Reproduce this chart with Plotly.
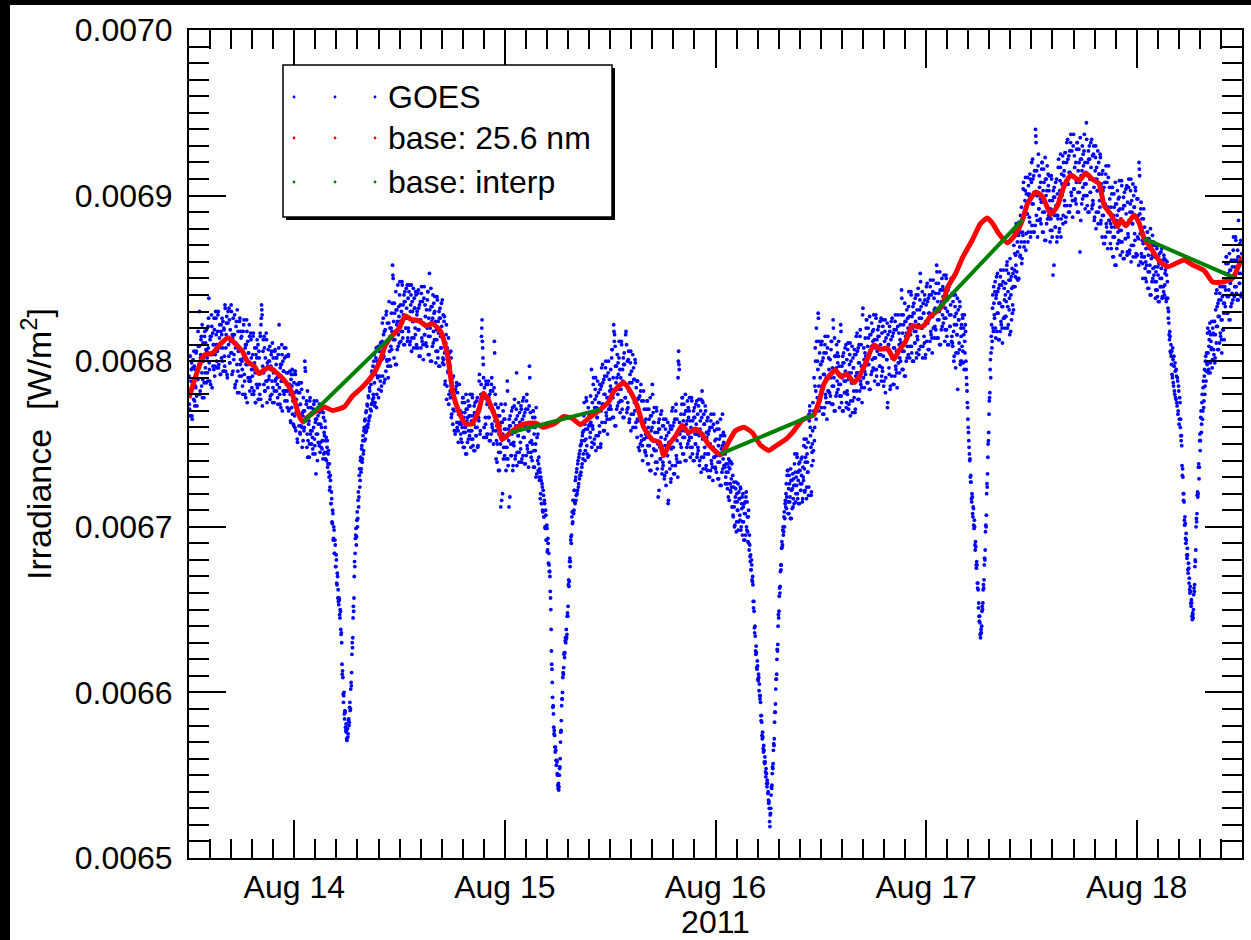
import pandas as pd
import plotly.graph_objects as go

# ---------------------------------------------------------------------------
# GOES irradiance in micro-W/m^2, two samples per 4-minute interval
# (at +0 min and +2 min), starting 2011-08-13 12:00 UT.
# One list per day and per sample phase, 15 values per hour.
# ---------------------------------------------------------------------------
goes_start_a = "2011-08-13 12:00"
goes_start_b = "2011-08-13 12:02"
goes_step = "4min"

goes_aug13_a = [
    6791, 6771, 6803, 6781, 6795, 6767, 6787, 6801, 6777, 6797, 6773, 6785, 6805, 6779, 6789,
    6789, 6809, 6798, 6830, 6782, 6804, 6815, 6793, 6778, 6811, 6802, 6787, 6818, 6796, 6807,
    6819, 6802, 6788, 6808, 6838, 6795, 6813, 6786, 6815, 6821, 6804, 6797, 6810, 6826, 6791,
    6804, 6826, 6810, 6796, 6818, 6830, 6798, 6814, 6808, 6792, 6822, 6816, 6800, 6824, 6794,
    6819, 6797, 6832, 6808, 6823, 6792, 6814, 6830, 6803, 6825, 6799, 6812, 6834, 6805, 6816,
    6794, 6816, 6804, 6828, 6786, 6811, 6824, 6798, 6781, 6818, 6808, 6791, 6826, 6801, 6814,
    6815, 6795, 6780, 6802, 6825, 6788, 6808, 6778, 6810, 6818, 6798, 6790, 6805, 6822, 6782,
    6788, 6813, 6795, 6780, 6804, 6817, 6782, 6799, 6793, 6775, 6808, 6802, 6784, 6810, 6777,
    6802, 6780, 6815, 6822, 6834, 6828, 6797, 6813, 6786, 6808, 6782, 6795, 6817, 6788, 6799,
    6784, 6800, 6791, 6809, 6779, 6797, 6806, 6788, 6775, 6802, 6795, 6782, 6807, 6789, 6798,
    6802, 6786, 6774, 6792, 6822, 6780, 6796, 6772, 6798, 6804, 6788, 6782, 6794, 6808, 6776,
    6782, 6803, 6786, 6772, 6793, 6804, 6771, 6786, 6780, 6763, 6792, 6785, 6768, 6792, 6761,
]
goes_aug13_b = [
    6774, 6803, 6767, 6788, 6799, 6765, 6796, 6785, 6806, 6776, 6795, 6784, 6806, 6773, 6794,
    6818, 6796, 6809, 6780, 6802, 6813, 6785, 6822, 6789, 6800, 6778, 6815, 6793, 6811, 6787,
    6806, 6793, 6821, 6826, 6799, 6788, 6815, 6804, 6828, 6784, 6817, 6810, 6795, 6819, 6797,
    6830, 6816, 6800, 6806, 6828, 6796, 6810, 6822, 6792, 6818, 6802, 6826, 6808, 6794, 6820,
    6803, 6834, 6794, 6816, 6827, 6790, 6823, 6810, 6832, 6799, 6819, 6805, 6830, 6792, 6814,
    6826, 6801, 6816, 6784, 6808, 6821, 6788, 6831, 6794, 6806, 6781, 6824, 6798, 6818, 6791,
    6800, 6785, 6818, 6822, 6792, 6780, 6810, 6798, 6825, 6775, 6812, 6805, 6788, 6815, 6790,
    6817, 6802, 6784, 6791, 6815, 6780, 6795, 6808, 6775, 6804, 6786, 6813, 6793, 6777, 6806,
    6786, 6817, 6777, 6826, 6831, 6773, 6806, 6793, 6815, 6782, 6802, 6788, 6813, 6775, 6797,
    6807, 6789, 6800, 6777, 6795, 6804, 6780, 6811, 6784, 6793, 6775, 6806, 6788, 6802, 6782,
    6790, 6778, 6804, 6808, 6784, 6774, 6798, 6788, 6810, 6770, 6800, 6794, 6780, 6802, 6782,
    6808, 6793, 6776, 6782, 6803, 6770, 6783, 6794, 6764, 6789, 6772, 6795, 6776, 6762, 6787,
]

goes_aug14_a = [
    6781, 6760, 6792, 6769, 6782, 6753, 6773, 6786, 6761, 6781, 6756, 6767, 6787, 6760, 6769,
    6752, 6770, 6760, 6800, 6794, 6766, 6776, 6756, 6742, 6772, 6764, 6750, 6778, 6758, 6768,
    6769, 6754, 6744, 6760, 6776, 6749, 6763, 6732, 6765, 6771, 6756, 6751, 6762, 6774, 6745,
    6762, 6748, 6770, 6752, 6741, 6766, 6757, 6745, 6760, 6752, 6740, 6748, 6736, 6744, 6733,
    6738, 6724, 6728, 6714, 6717, 6702, 6708, 6693, 6698, 6684, 6689, 6676, 6680, 6665, 6670,
    6662, 6653, 6656, 6645, 6649, 6635, 6630, 6611, 6609, 6594, 6600, 6584, 6588, 6577, 6576,
    6571, 6578, 6575, 6584, 6582, 6594, 6590, 6606, 6612, 6630, 6633, 6652, 6657, 6679, 6684,
    6695, 6689, 6704, 6700, 6716, 6712, 6731, 6724, 6740, 6733, 6747, 6739, 6752, 6744, 6758,
    6752, 6765, 6757, 6770, 6761, 6773, 6762, 6778, 6766, 6782, 6771, 6786, 6774, 6792, 6777,
    6780, 6800, 6787, 6775, 6796, 6808, 6780, 6796, 6791, 6778, 6806, 6801, 6788, 6811, 6785,
    6812, 6791, 6826, 6803, 6818, 6789, 6811, 6828, 6801, 6823, 6797, 6813, 6836, 6806, 6815,
    6809, 6829, 6818, 6858, 6850, 6824, 6835, 6813, 6798, 6831, 6822, 6807, 6846, 6816, 6827,
    6840, 6824, 6812, 6830, 6848, 6818, 6834, 6810, 6836, 6842, 6826, 6820, 6832, 6846, 6814,
    6820, 6842, 6826, 6812, 6834, 6846, 6814, 6830, 6824, 6808, 6838, 6832, 6816, 6840, 6810,
    6830, 6808, 6843, 6819, 6834, 6803, 6825, 6841, 6814, 6836, 6810, 6823, 6845, 6816, 6827,
    6811, 6831, 6820, 6842, 6804, 6826, 6853, 6815, 6800, 6833, 6824, 6809, 6840, 6818, 6829,
    6830, 6813, 6799, 6819, 6839, 6806, 6824, 6797, 6826, 6832, 6815, 6808, 6821, 6837, 6802,
    6801, 6824, 6805, 6788, 6811, 6822, 6785, 6801, 6793, 6774, 6805, 6797, 6778, 6802, 6768,
    6781, 6762, 6791, 6770, 6782, 6756, 6774, 6785, 6763, 6781, 6758, 6768, 6786, 6762, 6770,
    6753, 6769, 6760, 6778, 6748, 6766, 6775, 6757, 6744, 6771, 6764, 6751, 6776, 6758, 6767,
    6773, 6758, 6748, 6764, 6780, 6753, 6767, 6746, 6769, 6775, 6760, 6755, 6766, 6778, 6749,
    6766, 6788, 6772, 6758, 6780, 6815, 6825, 6808, 6798, 6754, 6784, 6778, 6762, 6786, 6756,
    6776, 6756, 6788, 6766, 6780, 6752, 6772, 6786, 6762, 6782, 6758, 6770, 6812, 6764, 6774,
    6741, 6761, 6750, 6772, 6734, 6756, 6767, 6745, 6712, 6763, 6754, 6720, 6770, 6748, 6759,
]
goes_aug14_b = [
    6767, 6794, 6758, 6777, 6786, 6751, 6781, 6768, 6787, 6757, 6774, 6761, 6783, 6748, 6767,
    6778, 6758, 6770, 6796, 6764, 6774, 6748, 6782, 6752, 6762, 6742, 6776, 6756, 6772, 6750,
    6758, 6747, 6771, 6774, 6753, 6744, 6765, 6756, 6776, 6740, 6767, 6762, 6749, 6769, 6751,
    6770, 6760, 6747, 6752, 6769, 6744, 6755, 6764, 6741, 6754, 6745, 6752, 6738, 6746, 6730,
    6722, 6731, 6714, 6721, 6703, 6710, 6692, 6700, 6684, 6692, 6676, 6683, 6666, 6672, 6657,
    6655, 6657, 6647, 6650, 6638, 6636, 6617, 6613, 6599, 6598, 6587, 6589, 6579, 6581, 6572,
    6578, 6573, 6583, 6580, 6591, 6589, 6602, 6604, 6623, 6627, 6645, 6649, 6670, 6676, 6693,
    6699, 6694, 6709, 6705, 6721, 6718, 6735, 6728, 6742, 6735, 6749, 6741, 6755, 6746, 6760,
    6764, 6753, 6769, 6758, 6774, 6760, 6779, 6764, 6784, 6767, 6789, 6770, 6794, 6775, 6797,
    6778, 6804, 6773, 6792, 6802, 6772, 6800, 6790, 6809, 6783, 6800, 6791, 6811, 6782, 6801,
    6823, 6802, 6816, 6787, 6810, 6819, 6794, 6830, 6800, 6811, 6790, 6823, 6801, 6820, 6797,
    6820, 6807, 6835, 6852, 6813, 6802, 6829, 6818, 6842, 6798, 6831, 6824, 6809, 6833, 6811,
    6848, 6834, 6818, 6824, 6846, 6814, 6828, 6840, 6810, 6836, 6820, 6844, 6826, 6812, 6838,
    6818, 6846, 6810, 6830, 6840, 6806, 6836, 6824, 6844, 6814, 6832, 6820, 6842, 6808, 6828,
    6841, 6819, 6832, 6803, 6825, 6836, 6808, 6845, 6812, 6823, 6801, 6838, 6816, 6834, 6810,
    6822, 6809, 6837, 6842, 6815, 6804, 6831, 6820, 6844, 6800, 6833, 6826, 6811, 6835, 6813,
    6839, 6824, 6806, 6813, 6837, 6802, 6817, 6830, 6797, 6826, 6808, 6835, 6815, 6799, 6828,
    6798, 6827, 6786, 6806, 6816, 6777, 6808, 6794, 6814, 6780, 6798, 6782, 6806, 6766, 6787,
    6790, 6771, 6782, 6758, 6775, 6783, 6758, 6787, 6760, 6770, 6751, 6768, 6763, 6767, 6756,
    6762, 6751, 6775, 6778, 6757, 6748, 6769, 6760, 6780, 6744, 6771, 6766, 6753, 6773, 6755,
    6780, 6767, 6753, 6758, 6778, 6749, 6762, 6773, 6746, 6769, 6755, 6776, 6760, 6748, 6771,
    6764, 6792, 6756, 6776, 6786, 6820, 6812, 6802, 6790, 6760, 6778, 6766, 6788, 6754, 6774,
    6786, 6766, 6778, 6752, 6772, 6782, 6756, 6790, 6760, 6770, 6750, 6784, 6805, 6780, 6758,
    6752, 6739, 6767, 6772, 6745, 6734, 6761, 6750, 6774, 6716, 6763, 6756, 6741, 6765, 6743,
]

goes_aug15_a = [
    6765, 6748, 6734, 6754, 6788, 6741, 6759, 6712, 6761, 6767, 6750, 6743, 6756, 6772, 6737,
    6751, 6773, 6757, 6743, 6765, 6793, 6745, 6761, 6755, 6739, 6769, 6763, 6747, 6771, 6741,
    6765, 6743, 6778, 6754, 6769, 6738, 6760, 6776, 6749, 6771, 6745, 6758, 6797, 6751, 6762,
    6742, 6760, 6750, 6770, 6736, 6756, 6766, 6746, 6730, 6762, 6754, 6740, 6734, 6742, 6728,
    6733, 6720, 6728, 6714, 6724, 6709, 6719, 6706, 6714, 6699, 6707, 6692, 6699, 6686, 6690,
    6684, 6673, 6670, 6657, 6638, 6617, 6606, 6591, 6587, 6575, 6574, 6564, 6565, 6556, 6558,
    6550, 6542, 6541, 6550, 6555, 6570, 6577, 6592, 6596, 6609, 6611, 6623, 6621, 6631, 6630,
    6638, 6635, 6648, 6652, 6668, 6667, 6681, 6679, 6694, 6695, 6709, 6703, 6716, 6710, 6722,
    6714, 6730, 6719, 6735, 6722, 6740, 6726, 6744, 6731, 6749, 6733, 6752, 6738, 6757, 6744,
    6767, 6752, 6740, 6759, 6778, 6749, 6765, 6742, 6761, 6767, 6762, 6757, 6763, 6795, 6751,
    6761, 6786, 6768, 6753, 6777, 6790, 6755, 6772, 6766, 6748, 6781, 6775, 6757, 6783, 6750,
    6785, 6763, 6798, 6774, 6789, 6758, 6780, 6796, 6769, 6791, 6765, 6778, 6800, 6771, 6782,
    6773, 6795, 6783, 6807, 6766, 6790, 6822, 6812, 6761, 6797, 6787, 6771, 6804, 6780, 6792,
    6802, 6783, 6769, 6790, 6812, 6776, 6795, 6766, 6798, 6805, 6786, 6778, 6818, 6810, 6771,
    6775, 6801, 6782, 6765, 6792, 6806, 6768, 6787, 6780, 6760, 6796, 6789, 6770, 6799, 6763,
    6777, 6754, 6788, 6764, 6778, 6746, 6767, 6782, 6755, 6776, 6749, 6761, 6782, 6753, 6763,
    6745, 6765, 6754, 6776, 6738, 6760, 6771, 6749, 6734, 6767, 6758, 6743, 6786, 6752, 6763,
    6763, 6746, 6732, 6752, 6772, 6739, 6757, 6718, 6759, 6765, 6748, 6741, 6754, 6770, 6735,
    6739, 6761, 6745, 6731, 6753, 6765, 6733, 6749, 6743, 6714, 6757, 6751, 6735, 6759, 6729,
    6759, 6737, 6772, 6748, 6763, 6732, 6754, 6770, 6743, 6765, 6739, 6790, 6806, 6795, 6756,
    6750, 6768, 6758, 6778, 6744, 6764, 6774, 6754, 6740, 6770, 6762, 6748, 6776, 6756, 6766,
    6770, 6754, 6742, 6760, 6778, 6748, 6764, 6740, 6766, 6772, 6756, 6750, 6762, 6776, 6744,
    6748, 6773, 6755, 6740, 6764, 6777, 6742, 6782, 6753, 6735, 6768, 6762, 6744, 6770, 6737,
    6754, 6734, 6766, 6744, 6758, 6730, 6750, 6764, 6740, 6760, 6736, 6748, 6768, 6742, 6752,
]
goes_aug15_b = [
    6774, 6759, 6741, 6748, 6782, 6737, 6752, 6765, 6718, 6761, 6743, 6770, 6750, 6734, 6763,
    6749, 6777, 6741, 6761, 6771, 6737, 6767, 6755, 6775, 6745, 6763, 6751, 6773, 6739, 6759,
    6776, 6754, 6767, 6738, 6760, 6771, 6743, 6780, 6747, 6758, 6736, 6773, 6790, 6769, 6745,
    6752, 6740, 6766, 6770, 6746, 6736, 6760, 6750, 6772, 6732, 6762, 6756, 6738, 6730, 6735,
    6717, 6730, 6714, 6726, 6710, 6722, 6706, 6716, 6700, 6710, 6692, 6701, 6685, 6693, 6678,
    6677, 6673, 6661, 6650, 6625, 6614, 6597, 6592, 6579, 6577, 6567, 6567, 6559, 6559, 6551,
    6544, 6545, 6543, 6554, 6560, 6576, 6583, 6596, 6600, 6612, 6615, 6624, 6624, 6633, 6632,
    6633, 6646, 6646, 6665, 6664, 6679, 6676, 6692, 6690, 6706, 6702, 6716, 6708, 6722, 6715,
    6728, 6716, 6733, 6720, 6738, 6724, 6742, 6729, 6746, 6731, 6750, 6736, 6755, 6741, 6758,
    6775, 6762, 6746, 6753, 6776, 6744, 6759, 6772, 6743, 6769, 6754, 6779, 6761, 6748, 6775,
    6759, 6790, 6750, 6772, 6783, 6746, 6779, 6766, 6788, 6755, 6775, 6761, 6786, 6748, 6770,
    6796, 6774, 6787, 6758, 6780, 6791, 6763, 6800, 6767, 6778, 6756, 6793, 6771, 6789, 6765,
    6785, 6771, 6802, 6807, 6778, 6766, 6818, 6816, 6809, 6761, 6797, 6790, 6773, 6799, 6775,
    6812, 6795, 6776, 6783, 6810, 6771, 6788, 6802, 6766, 6798, 6778, 6816, 6786, 6769, 6800,
    6772, 6806, 6763, 6787, 6799, 6758, 6794, 6780, 6804, 6768, 6789, 6775, 6801, 6760, 6784,
    6788, 6765, 6777, 6748, 6769, 6779, 6750, 6786, 6752, 6763, 6740, 6776, 6753, 6771, 6746,
    6756, 6743, 6771, 6776, 6749, 6738, 6765, 6754, 6778, 6734, 6767, 6760, 6780, 6769, 6747,
    6772, 6757, 6739, 6746, 6770, 6735, 6750, 6763, 6722, 6759, 6741, 6768, 6748, 6732, 6761,
    6737, 6765, 6729, 6749, 6759, 6725, 6755, 6743, 6763, 6716, 6751, 6739, 6761, 6727, 6747,
    6770, 6748, 6761, 6732, 6754, 6765, 6737, 6774, 6741, 6752, 6730, 6800, 6798, 6763, 6739,
    6760, 6748, 6774, 6778, 6754, 6744, 6768, 6758, 6780, 6740, 6770, 6764, 6750, 6772, 6752,
    6778, 6764, 6748, 6754, 6776, 6744, 6758, 6770, 6740, 6766, 6750, 6774, 6756, 6742, 6768,
    6746, 6777, 6737, 6759, 6770, 6733, 6766, 6776, 6775, 6742, 6762, 6748, 6773, 6735, 6757,
    6764, 6744, 6756, 6730, 6750, 6760, 6734, 6768, 6738, 6748, 6728, 6762, 6742, 6758, 6736,
]

goes_aug16_a = [
    6735, 6753, 6743, 6763, 6729, 6749, 6759, 6739, 6725, 6755, 6747, 6733, 6768, 6741, 6751,
    6749, 6736, 6726, 6738, 6750, 6726, 6738, 6718, 6736, 6740, 6726, 6721, 6729, 6738, 6712,
    6707, 6724, 6712, 6701, 6718, 6727, 6703, 6715, 6710, 6698, 6721, 6717, 6704, 6723, 6700,
    6711, 6695, 6720, 6703, 6714, 6692, 6708, 6718, 6700, 6715, 6697, 6706, 6690, 6695, 6682,
    6683, 6674, 6677, 6667, 6665, 6651, 6649, 6636, 6634, 6623, 6624, 6614, 6616, 6607, 6609,
    6605, 6596, 6594, 6583, 6582, 6572, 6573, 6564, 6565, 6557, 6558, 6549, 6551, 6543, 6545,
    6540, 6533, 6530, 6519, 6527, 6538, 6542, 6551, 6554, 6565, 6568, 6582, 6588, 6602, 6608,
    6620, 6625, 6640, 6645, 6658, 6660, 6673, 6674, 6687, 6688, 6698, 6695, 6706, 6700, 6714,
    6712, 6726, 6718, 6734, 6708, 6723, 6731, 6715, 6705, 6728, 6722, 6711, 6732, 6717, 6725,
    6738, 6725, 6715, 6730, 6744, 6720, 6733, 6714, 6734, 6739, 6726, 6722, 6731, 6742, 6717,
    6730, 6749, 6735, 6722, 6742, 6753, 6724, 6739, 6733, 6719, 6768, 6773, 6760, 6748, 6721,
    6745, 6758, 6740, 6770, 6752, 6785, 6800, 6765, 6812, 6778, 6795, 6826, 6770, 6805, 6790,
    6798, 6772, 6812, 6785, 6802, 6768, 6792, 6810, 6780, 6805, 6775, 6790, 6815, 6782, 6795,
    6781, 6801, 6790, 6812, 6774, 6796, 6825, 6785, 6770, 6803, 6794, 6779, 6810, 6788, 6799,
    6803, 6786, 6772, 6792, 6822, 6779, 6797, 6770, 6799, 6805, 6788, 6781, 6794, 6810, 6775,
    6782, 6807, 6789, 6774, 6798, 6811, 6776, 6793, 6787, 6769, 6802, 6796, 6778, 6804, 6771,
    6804, 6782, 6817, 6793, 6808, 6777, 6799, 6815, 6788, 6810, 6784, 6797, 6832, 6790, 6801,
    6794, 6814, 6803, 6825, 6787, 6809, 6820, 6798, 6783, 6816, 6807, 6792, 6823, 6801, 6812,
    6819, 6802, 6788, 6808, 6828, 6795, 6813, 6786, 6815, 6821, 6804, 6797, 6810, 6826, 6791,
    6796, 6821, 6803, 6788, 6812, 6825, 6790, 6807, 6801, 6772, 6816, 6810, 6792, 6818, 6785,
    6813, 6791, 6826, 6802, 6817, 6786, 6808, 6824, 6797, 6819, 6793, 6806, 6828, 6799, 6810,
    6802, 6822, 6811, 6843, 6795, 6817, 6828, 6806, 6791, 6824, 6815, 6800, 6831, 6809, 6820,
    6833, 6816, 6802, 6822, 6842, 6809, 6827, 6800, 6829, 6835, 6818, 6811, 6824, 6840, 6805,
    6815, 6840, 6822, 6807, 6831, 6853, 6809, 6826, 6820, 6802, 6835, 6829, 6811, 6837, 6804,
]
goes_aug16_b = [
    6745, 6733, 6759, 6763, 6739, 6729, 6753, 6743, 6765, 6725, 6755, 6749, 6735, 6757, 6737,
    6755, 6744, 6730, 6733, 6749, 6723, 6733, 6741, 6716, 6735, 6722, 6739, 6724, 6712, 6731,
    6706, 6727, 6700, 6715, 6723, 6697, 6720, 6710, 6726, 6703, 6717, 6707, 6724, 6698, 6714,
    6718, 6703, 6712, 6692, 6708, 6715, 6695, 6721, 6698, 6706, 6691, 6710, 6686, 6689, 6679,
    6674, 6680, 6668, 6670, 6655, 6655, 6639, 6640, 6625, 6628, 6615, 6619, 6608, 6611, 6601,
    6598, 6598, 6586, 6586, 6574, 6576, 6566, 6568, 6558, 6561, 6552, 6554, 6545, 6547, 6539,
    6535, 6534, 6522, 6526, 6530, 6543, 6544, 6555, 6557, 6569, 6572, 6588, 6593, 6608, 6611,
    6626, 6629, 6647, 6649, 6663, 6664, 6677, 6677, 6691, 6689, 6700, 6697, 6709, 6705, 6716,
    6720, 6711, 6731, 6734, 6715, 6708, 6726, 6718, 6735, 6705, 6728, 6723, 6712, 6729, 6714,
    6744, 6733, 6720, 6725, 6742, 6717, 6728, 6738, 6714, 6734, 6722, 6741, 6726, 6715, 6736,
    6728, 6753, 6721, 6739, 6748, 6717, 6744, 6733, 6751, 6724, 6764, 6770, 6755, 6719, 6737,
    6750, 6775, 6746, 6790, 6760, 6808, 6782, 6820, 6772, 6800, 6829, 6785, 6812, 6776, 6798,
    6810, 6785, 6800, 6768, 6792, 6805, 6772, 6815, 6778, 6790, 6765, 6808, 6782, 6802, 6775,
    6792, 6779, 6807, 6812, 6785, 6774, 6820, 6790, 6814, 6770, 6803, 6796, 6781, 6805, 6783,
    6812, 6797, 6779, 6786, 6818, 6775, 6790, 6803, 6770, 6799, 6781, 6808, 6788, 6772, 6801,
    6780, 6811, 6771, 6793, 6804, 6767, 6800, 6787, 6809, 6776, 6796, 6782, 6807, 6769, 6791,
    6815, 6793, 6806, 6777, 6799, 6810, 6782, 6819, 6786, 6797, 6775, 6828, 6790, 6808, 6784,
    6805, 6792, 6820, 6825, 6798, 6787, 6814, 6803, 6827, 6783, 6816, 6809, 6794, 6818, 6796,
    6828, 6813, 6795, 6802, 6826, 6791, 6806, 6819, 6786, 6815, 6797, 6824, 6804, 6788, 6817,
    6794, 6825, 6785, 6807, 6818, 6781, 6814, 6801, 6823, 6775, 6810, 6796, 6821, 6783, 6805,
    6824, 6802, 6815, 6786, 6808, 6819, 6791, 6828, 6795, 6806, 6784, 6821, 6799, 6817, 6793,
    6813, 6800, 6828, 6838, 6806, 6795, 6822, 6811, 6835, 6791, 6824, 6817, 6802, 6826, 6804,
    6842, 6827, 6809, 6816, 6840, 6805, 6820, 6833, 6800, 6829, 6811, 6838, 6818, 6802, 6831,
    6813, 6844, 6804, 6826, 6837, 6848, 6833, 6820, 6842, 6809, 6829, 6815, 6840, 6802, 6824,
]

goes_aug17_a = [
    6834, 6812, 6847, 6823, 6838, 6807, 6829, 6845, 6818, 6840, 6814, 6827, 6849, 6820, 6831,
    6821, 6841, 6830, 6858, 6814, 6836, 6847, 6825, 6810, 6843, 6834, 6819, 6850, 6828, 6839,
    6843, 6826, 6812, 6832, 6852, 6819, 6837, 6810, 6839, 6845, 6828, 6821, 6834, 6850, 6815,
    6811, 6836, 6818, 6803, 6827, 6840, 6805, 6822, 6816, 6783, 6831, 6825, 6807, 6833, 6800,
    6815, 6800, 6828, 6806, 6820, 6795, 6812, 6822, 6800, 6790, 6782, 6772, 6760, 6752, 6744,
    6741, 6727, 6727, 6715, 6718, 6706, 6711, 6699, 6700, 6686, 6688, 6675, 6677, 6663, 6662,
    6654, 6643, 6642, 6633, 6638, 6640, 6652, 6654, 6665, 6668, 6681, 6686, 6701, 6707, 6726,
    6732, 6750, 6757, 6776, 6781, 6801, 6805, 6822, 6812, 6840, 6818, 6835, 6826, 6848, 6814,
    6840, 6818, 6853, 6829, 6844, 6813, 6835, 6851, 6824, 6846, 6820, 6833, 6855, 6826, 6837,
    6827, 6847, 6836, 6858, 6820, 6842, 6853, 6831, 6816, 6849, 6840, 6825, 6856, 6834, 6845,
    6870, 6855, 6845, 6864, 6883, 6854, 6872, 6849, 6876, 6884, 6869, 6864, 6878, 6893, 6862,
    6878, 6904, 6887, 6872, 6897, 6911, 6877, 6895, 6889, 6872, 6906, 6901, 6884, 6910, 6878,
    6908, 6882, 6922, 6895, 6912, 6878, 6902, 6940, 6932, 6915, 6885, 6900, 6925, 6892, 6905,
    6886, 6908, 6896, 6920, 6878, 6903, 6916, 6890, 6873, 6910, 6900, 6883, 6918, 6893, 6906,
    6903, 6886, 6872, 6892, 6912, 6879, 6897, 6852, 6899, 6905, 6888, 6881, 6894, 6910, 6875,
    6888, 6917, 6898, 6880, 6909, 6925, 6886, 6907, 6902, 6883, 6920, 6915, 6894, 6926, 6887,
    6920, 6894, 6934, 6907, 6924, 6890, 6914, 6932, 6902, 6927, 6897, 6912, 6937, 6904, 6917,
    6898, 6920, 6908, 6932, 6890, 6915, 6928, 6902, 6866, 6922, 6912, 6895, 6930, 6905, 6918,
    6927, 6907, 6892, 6914, 6944, 6900, 6920, 6890, 6922, 6930, 6910, 6902, 6917, 6934, 6894,
    6897, 6925, 6905, 6887, 6915, 6930, 6890, 6910, 6903, 6883, 6920, 6913, 6893, 6923, 6885,
    6901, 6875, 6915, 6888, 6905, 6871, 6895, 6913, 6883, 6908, 6878, 6893, 6918, 6885, 6898,
    6871, 6893, 6881, 6905, 6863, 6888, 6901, 6875, 6858, 6895, 6885, 6868, 6903, 6878, 6891,
    6899, 6879, 6864, 6886, 6909, 6872, 6892, 6862, 6894, 6902, 6882, 6874, 6889, 6906, 6866,
    6877, 6905, 6885, 6867, 6895, 6910, 6870, 6890, 6883, 6863, 6900, 6893, 6873, 6903, 6865,
]
goes_aug17_b = [
    6845, 6823, 6836, 6807, 6829, 6840, 6812, 6849, 6816, 6827, 6805, 6842, 6820, 6838, 6814,
    6832, 6819, 6847, 6854, 6825, 6814, 6841, 6830, 6854, 6810, 6843, 6836, 6821, 6845, 6823,
    6852, 6837, 6819, 6826, 6850, 6815, 6830, 6843, 6810, 6839, 6821, 6848, 6828, 6812, 6841,
    6809, 6840, 6800, 6822, 6833, 6796, 6829, 6816, 6838, 6805, 6825, 6811, 6836, 6798, 6820,
    6822, 6809, 6826, 6799, 6816, 6828, 6805, 6818, 6795, 6786, 6775, 6765, 6757, 6748, 6740,
    6730, 6731, 6717, 6720, 6708, 6712, 6701, 6704, 6689, 6691, 6677, 6679, 6666, 6666, 6651,
    6646, 6646, 6635, 6636, 6636, 6649, 6650, 6662, 6663, 6677, 6680, 6697, 6700, 6720, 6724,
    6742, 6752, 6768, 6778, 6795, 6790, 6815, 6808, 6832, 6820, 6845, 6828, 6842, 6820, 6838,
    6851, 6829, 6842, 6813, 6835, 6846, 6818, 6855, 6822, 6833, 6811, 6848, 6826, 6844, 6820,
    6840, 6827, 6855, 6860, 6833, 6822, 6849, 6838, 6862, 6818, 6851, 6844, 6829, 6853, 6831,
    6878, 6865, 6851, 6858, 6881, 6850, 6866, 6879, 6850, 6878, 6863, 6888, 6872, 6859, 6886,
    6876, 6908, 6869, 6891, 6903, 6867, 6901, 6889, 6911, 6878, 6900, 6887, 6913, 6875, 6898,
    6920, 6895, 6910, 6878, 6902, 6915, 6882, 6936, 6888, 6900, 6875, 6918, 6892, 6912, 6885,
    6898, 6883, 6916, 6920, 6890, 6878, 6908, 6896, 6923, 6873, 6910, 6903, 6886, 6913, 6888,
    6912, 6897, 6879, 6886, 6910, 6875, 6890, 6903, 6858, 6899, 6881, 6908, 6888, 6872, 6901,
    6886, 6922, 6878, 6903, 6917, 6875, 6913, 6900, 6924, 6888, 6912, 6897, 6926, 6884, 6909,
    6932, 6907, 6922, 6890, 6914, 6927, 6894, 6937, 6900, 6912, 6887, 6930, 6904, 6924, 6897,
    6910, 6895, 6928, 6932, 6902, 6890, 6920, 6908, 6935, 6885, 6922, 6915, 6898, 6925, 6900,
    6937, 6920, 6900, 6907, 6934, 6894, 6912, 6927, 6890, 6922, 6902, 6932, 6910, 6892, 6924,
    6895, 6930, 6885, 6910, 6923, 6880, 6917, 6903, 6927, 6890, 6913, 6897, 6925, 6883, 6907,
    6913, 6888, 6903, 6871, 6895, 6908, 6875, 6918, 6881, 6893, 6868, 6911, 6885, 6905, 6878,
    6883, 6868, 6901, 6905, 6875, 6863, 6893, 6881, 6908, 6858, 6895, 6888, 6871, 6898, 6873,
    6909, 6892, 6872, 6879, 6906, 6866, 6884, 6899, 6862, 6894, 6874, 6904, 6882, 6864, 6896,
    6875, 6910, 6865, 6890, 6903, 6860, 6897, 6883, 6907, 6870, 6893, 6877, 6905, 6863, 6887,
]

goes_aug18_a = [
    6887, 6864, 6898, 6874, 6920, 6912, 6877, 6892, 6865, 6886, 6859, 6871, 6892, 6863, 6873,
    6850, 6868, 6858, 6878, 6844, 6864, 6874, 6854, 6840, 6870, 6862, 6848, 6876, 6856, 6866,
    6863, 6848, 6838, 6854, 6870, 6843, 6857, 6836, 6859, 6865, 6850, 6845, 6856, 6868, 6839,
    6858, 6842, 6862, 6846, 6855, 6838, 6852, 6860, 6838, 6826, 6823, 6813, 6815, 6805, 6803,
    6806, 6790, 6801, 6785, 6797, 6780, 6794, 6777, 6791, 6773, 6788, 6770, 6782, 6765, 6775,
    6765, 6752, 6749, 6731, 6730, 6716, 6715, 6701, 6702, 6690, 6692, 6681, 6683, 6672, 6675,
    6669, 6660, 6661, 6652, 6654, 6644, 6647, 6650, 6663, 6665, 6680, 6686, 6705, 6708, 6721,
    6720, 6738, 6736, 6756, 6752, 6770, 6762, 6780, 6770, 6788, 6776, 6795, 6785, 6803, 6794,
    6799, 6817, 6805, 6795, 6813, 6823, 6799, 6812, 6808, 6796, 6820, 6817, 6804, 6824, 6802,
    6831, 6811, 6843, 6821, 6835, 6807, 6827, 6841, 6817, 6837, 6813, 6825, 6845, 6819, 6829,
    6835, 6853, 6843, 6863, 6829, 6849, 6859, 6839, 6825, 6855, 6847, 6833, 6861, 6841, 6851,
    6867, 6851, 6839, 6857, 6875, 6845, 6861, 6837, 6863, 6885, 6853, 6847, 6859, 6873, 6841,
]
goes_aug18_b = [
    6898, 6875, 6888, 6858, 6916, 6889, 6860, 6896, 6863, 6873, 6850, 6886, 6863, 6881, 6856,
    6860, 6848, 6874, 6878, 6854, 6844, 6868, 6858, 6880, 6840, 6870, 6864, 6850, 6872, 6852,
    6870, 6857, 6843, 6848, 6868, 6839, 6852, 6863, 6836, 6859, 6845, 6866, 6850, 6838, 6861,
    6845, 6864, 6840, 6853, 6861, 6836, 6857, 6848, 6832, 6830, 6816, 6818, 6806, 6810, 6798,
    6792, 6808, 6787, 6803, 6782, 6799, 6778, 6795, 6775, 6790, 6768, 6785, 6762, 6778, 6760,
    6755, 6755, 6737, 6735, 6720, 6720, 6704, 6706, 6693, 6696, 6683, 6687, 6674, 6678, 6666,
    6662, 6664, 6654, 6656, 6646, 6648, 6645, 6659, 6661, 6676, 6679, 6700, 6703, 6719, 6718,
    6736, 6729, 6752, 6746, 6766, 6757, 6775, 6765, 6784, 6772, 6791, 6780, 6800, 6788, 6805,
    6798, 6820, 6793, 6809, 6818, 6793, 6816, 6807, 6824, 6801, 6816, 6807, 6824, 6799, 6816,
    6841, 6821, 6833, 6807, 6827, 6837, 6811, 6845, 6815, 6825, 6805, 6839, 6819, 6835, 6813,
    6845, 6833, 6859, 6863, 6839, 6829, 6853, 6843, 6865, 6825, 6855, 6849, 6835, 6857, 6837,
    6875, 6861, 6845, 6851, 6873, 6841, 6855, 6867, 6837, 6863, 6847, 6871, 6853, 6839, 6865,
]

# ---------------------------------------------------------------------------
# 25.6 nm based baseline (hours after 2011-08-13 00:00 UT, micro-W/m^2)
# ---------------------------------------------------------------------------
base_hours = [
    12.0, 12.76, 13.71, 14.66, 15.62, 16.48, 17.33, 18.08, 18.65, 19.41,
    19.98, 20.56, 21.13, 21.89, 22.84, 23.60, 24.17, 24.55, 25.04, 25.69,
    26.63, 27.40, 28.35, 29.68, 30.63, 31.77, 33.10, 33.87, 34.44, 35.19,
    35.95, 36.64, 37.29, 38.24, 39.00, 39.75, 40.71, 41.46, 42.03, 42.34,
    42.91, 43.48, 44.25, 45.00, 45.57, 46.14, 46.71, 47.21, 47.67, 48.62,
    49.95, 51.47, 52.41, 53.75, 54.70, 55.65, 56.60, 57.55, 58.88, 59.83,
    60.40, 61.54, 62.30, 63.07, 63.82, 64.78, 65.61, 66.10, 66.67, 67.44,
    68.20, 68.95, 69.72, 70.48, 71.24, 72.38, 72.76, 73.52, 74.27, 75.23,
    76.18, 77.12, 78.08, 79.03, 79.97, 80.93, 81.88, 83.21, 83.78, 84.35,
    84.92, 85.67, 86.24, 87.00, 87.77, 88.34, 89.09, 90.05, 90.81, 91.57,
    92.34, 92.91, 93.66, 94.42, 95.19, 95.76, 96.51, 97.28, 97.85, 98.42,
    99.36, 100.13, 101.27, 102.18, 102.98, 103.56, 104.32, 105.27, 106.22, 106.98,
    107.56, 108.50, 109.27, 110.21, 110.98, 111.73, 112.49, 113.44, 114.20, 114.97,
    115.72, 116.29, 117.06, 117.82, 118.20, 118.77, 119.71, 120.29, 120.86, 121.62,
    122.57, 123.53, 124.67, 125.42, 126.38, 127.70, 128.66, 129.80, 130.94, 131.69,
    132.08,
]
base_values = [
    6777.8, 6790.8, 6803.7, 6804.8, 6810.6, 6814.1, 6810.2, 6805.9, 6799.9, 6797.2,
    6792.5, 6794.7, 6796.2, 6793.4, 6788.6, 6782.6, 6773.6, 6767.0, 6763.3, 6767.0,
    6770.3, 6772.4, 6770.3, 6772.4, 6779.0, 6784.4, 6792.9, 6801.6, 6810.6, 6815.6,
    6819.9, 6827.5, 6825.3, 6824.3, 6821.4, 6822.7, 6817.8, 6803.7, 6782.2, 6775.7,
    6767.7, 6762.2, 6762.2, 6769.9, 6780.7, 6776.3, 6768.8, 6762.2, 6752.6, 6756.9,
    6761.8, 6762.7, 6760.1, 6762.7, 6766.6, 6765.5, 6761.8, 6765.5, 6770.9, 6775.3,
    6781.7, 6787.1, 6781.7, 6773.1, 6760.1, 6752.6, 6751.1, 6742.9, 6749.4, 6754.8,
    6761.2, 6756.9, 6759.1, 6755.8, 6749.4, 6744.0, 6744.0, 6751.5, 6758.0, 6760.1,
    6756.9, 6749.4, 6746.1, 6749.4, 6752.6, 6758.0, 6764.5, 6767.7, 6775.3, 6786.1,
    6790.8, 6794.7, 6790.8, 6792.1, 6787.1, 6790.4, 6798.6, 6809.8, 6807.2, 6808.0,
    6801.2, 6806.5, 6811.9, 6821.6, 6820.6, 6821.6, 6827.1, 6830.3, 6833.5, 6844.2,
    6852.9, 6862.3, 6873.2, 6882.9, 6886.5, 6883.3, 6876.8, 6871.4, 6876.8, 6885.4,
    6895.1, 6902.1, 6899.4, 6888.6, 6894.0, 6905.9, 6912.4, 6909.2, 6913.5, 6909.8,
    6907.1, 6894.0, 6888.6, 6881.2, 6885.4, 6881.8, 6888.3, 6883.3, 6874.0, 6868.2,
    6860.7, 6857.0, 6859.6, 6861.1, 6858.1, 6854.6, 6847.8, 6847.8, 6850.2, 6858.5,
    6862.9,
]

# interpolated baseline across the daily eclipse gaps (None separates segments)
interp_hours = [25.04, 35.19, None, 48.62, 58.88, None, 72.57, 83.21, None,
                96.90, 106.98, None, 120.86, 131.12]
interp_values = [6763.3, 6815.6, None, 6756.9, 6770.9, None, 6744.0, 6767.7, None,
                 6829.0, 6885.4, None, 6874.0, 6850.5]

legend_labels = ["GOES", "base: 25.6 nm", "base: interp"]
legend_colors = ["#0000ff", "#ff0000", "#008000"]

# ---------------------------------------------------------------------------
UW = 1e-6  # micro-W/m^2 -> W/m^2
day0 = pd.Timestamp("2011-08-13")

goes_a = goes_aug13_a + goes_aug14_a + goes_aug15_a + goes_aug16_a + goes_aug17_a + goes_aug18_a
goes_b = goes_aug13_b + goes_aug14_b + goes_aug15_b + goes_aug16_b + goes_aug17_b + goes_aug18_b
goes_time = (list(pd.date_range(goes_start_a, periods=len(goes_a), freq=goes_step))
             + list(pd.date_range(goes_start_b, periods=len(goes_b), freq=goes_step)))
goes_vals = goes_a + goes_b


def hours_to_time(hours):
    return [None if h is None else day0 + pd.Timedelta(hours=h) for h in hours]


def scale(vals):
    return [None if v is None else v * UW for v in vals]


W, H = 1251, 940
ML, MR, MT, MB = 189, 9, 30, 82
PW, PH = W - ML - MR, H - MT - MB


def px_x(px):
    return (px - ML) / PW


def px_y(py):
    return (H - MB - py) / PH


FONT = "Liberation Sans, Arial, Helvetica, sans-serif"

fig = go.Figure()
fig.add_trace(go.Scatter(
    x=goes_time, y=scale(goes_vals), mode="markers",
    marker=dict(color=legend_colors[0], size=3.8, line=dict(width=0)),
    name=legend_labels[0], hoverinfo="skip",
))
fig.add_trace(go.Scatter(
    x=hours_to_time(base_hours), y=scale(base_values), mode="lines",
    line=dict(color=legend_colors[1], width=5, shape="spline", smoothing=0.5),
    name=legend_labels[1],
))
fig.add_trace(go.Scatter(
    x=hours_to_time(interp_hours), y=scale(interp_values), mode="lines",
    line=dict(color=legend_colors[2], width=4), name=legend_labels[2],
    connectgaps=False,
))

axis_common = dict(
    ticks="inside", tickcolor="black", tickwidth=2,
    showline=True, linecolor="black", linewidth=2, mirror="allticks",
    showgrid=False, zeroline=False,
    tickfont=dict(family=FONT, size=32, color="black"),
)

fig.update_xaxes(
    type="date",
    range=["2011-08-13 12:00", "2011-08-18 12:00"],
    tick0="2011-08-14", dtick=86400000, tickformat="%b %d", ticklen=38,
    minor=dict(tick0="2011-08-14", dtick=8640000, ticks="inside", ticklen=19,
               tickwidth=2, tickcolor="black", showgrid=False),
    title=dict(text="2011", font=dict(family=FONT, size=32, color="black"), standoff=2),
    **axis_common,
)
fig.update_yaxes(
    range=[0.0065, 0.0070], tick0=0.0065, dtick=0.0001, tickformat=".4f", ticklen=37,
    ticklabelstandoff=8,
    minor=dict(dtick=0.00001, ticks="inside", ticklen=20, tickwidth=2,
               tickcolor="black", showgrid=False),
    title=dict(text="Irradiance\u00a0\u00a0[W/m<sup>2</sup>]",
               font=dict(family=FONT, size=34, color="black"), standoff=13),
    **axis_common,
)

shapes = [
    # dark frame strips along the top and left of the page
    dict(type="rect", xref="paper", yref="paper", x0=px_x(-20), x1=px_x(10),
         y0=px_y(960), y1=px_y(-20), fillcolor="black", line=dict(width=0)),
    dict(type="rect", xref="paper", yref="paper", x0=px_x(-20), x1=px_x(1270),
         y0=px_y(5), y1=px_y(-20), fillcolor="black", line=dict(width=0)),
    # legend shadow and box
    dict(type="rect", xref="paper", yref="paper", x0=px_x(286), x1=px_x(615),
         y0=px_y(220), y1=px_y(68), fillcolor="black", line=dict(width=0)),
    dict(type="rect", xref="paper", yref="paper", x0=px_x(283), x1=px_x(612),
         y0=px_y(217), y1=px_y(65), fillcolor="white",
         line=dict(color="black", width=1.5)),
]
annotations = []
row_y = [97, 138, 182]
dot_x = [294, 335, 375]
r = 1.4
for label, color, ry in zip(legend_labels, legend_colors, row_y):
    for dx in dot_x:
        shapes.append(dict(type="circle", xref="paper", yref="paper",
                           x0=px_x(dx - r), x1=px_x(dx + r),
                           y0=px_y(ry + r), y1=px_y(ry - r),
                           fillcolor=color, line=dict(width=0)))
    annotations.append(dict(text=label, xref="paper", yref="paper",
                            x=px_x(386), y=px_y(ry), xanchor="left", yanchor="middle",
                            showarrow=False,
                            font=dict(family=FONT, size=32, color="black")))

fig.update_layout(
    width=W, height=H,
    margin=dict(l=ML, r=MR, t=MT, b=MB, autoexpand=False),
    paper_bgcolor="white", plot_bgcolor="white",
    showlegend=False,
    shapes=shapes, annotations=annotations,
    font=dict(family=FONT, color="black"),
)

fig.write_html("out.html")
